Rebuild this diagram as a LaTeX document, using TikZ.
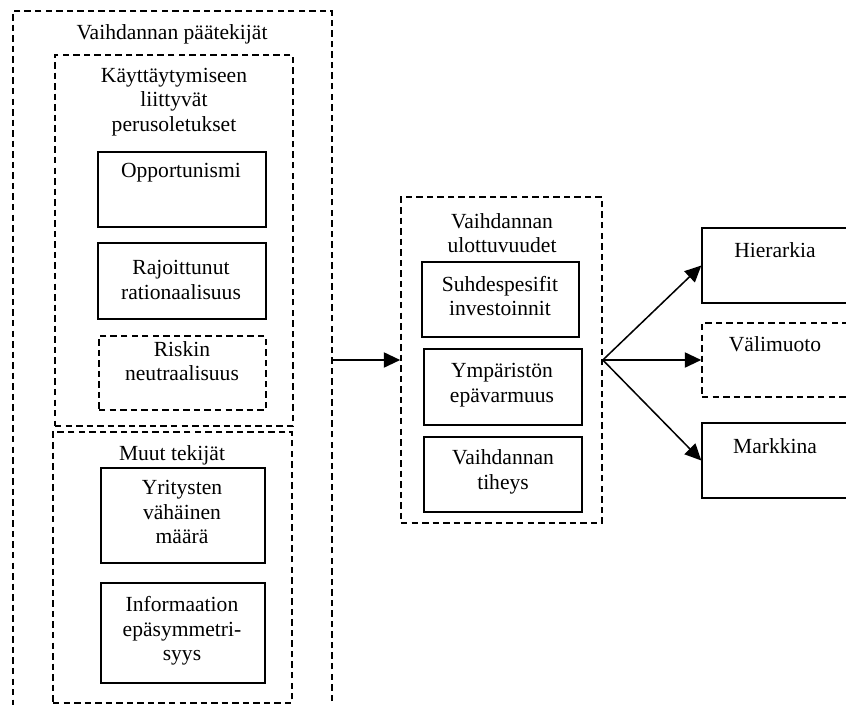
\documentclass[tikz,border=0pt]{standalone}
\usepackage{fontspec}
\setmainfont{Liberation Serif}
\usetikzlibrary{arrows.meta,fit}

\tikzset{
  box/.style={draw, line width=1.2pt, inner sep=0pt},
  dbox/.style={draw, line width=1.4pt, dash pattern=on 5.5pt off 3.5pt, inner sep=0pt},
  txt/.style={align=center, inner sep=0pt, font=\fontsize{18.4}{20.9}\selectfont},
  arr/.style={line width=1.3pt, -{Triangle[length=14pt,width=13pt]}}
}

\begin{document}
\begin{tikzpicture}[x=0.03cm, y=-0.03cm]
\useasboundingbox (0,0) rectangle (846,705);

% frames

\node (paatekijat) [dbox, fit={(13,11) (332,730)}] {};
\node (kaytt) [dbox, fit={(55,55) (293,426)}] {};
\node (muut) [dbox, fit={(53,432) (292,703)}] {};
\node (ulott) [dbox, fit={(401,197) (602,523)}] {};

% boxes

\node (opport) [box, fit={(98,152) (266,227)}] {};
\node (rajoit) [box, fit={(98,243) (266,319)}] {};
\node (riski) [dbox, fit={(99,336) (266,410)}] {};

\node (yrit) [box, fit={(101,468) (265,563)}] {};
\node (inform) [box, fit={(101,583) (265,683)}] {};

\node (suhde) [box, fit={(422,262) (579,337)}] {};
\node (ympar) [box, fit={(424,349) (582,425)}] {};
\node (tiheys) [box, fit={(424,437) (582,512)}] {};

\node (hier) [box, fit={(702,228) (849,303)}] {};
\node (vali) [dbox, fit={(702,323) (849,397)}] {};
\node (markk) [box, fit={(702,423) (849,498)}] {};

% texts

\node (t-paat) [txt] at (172,34) {Vaihdannan päätekijät};
\node (t-kaytt) [txt] at (174,102) {Käyttäytymiseen\\liittyvät\\perusoletukset};
\node (t-opport) [txt] at (181,173) {Opportunismi};
\node (t-rajoit) [txt] at (181,280) {Rajoittunut\\rationaalisuus};
\node (t-riski) [txt] at (182,361) {Riskin\\neutraalisuus};

\node (t-muut) [txt] at (172,455) {Muut tekijät};
\node (t-yrit) [txt] at (182,512) {Yritysten\\vähäinen\\määrä};
\node (t-inform) [txt] at (182,631) {Informaation\\epäsymmetri-\\syys};

\node (t-ulott) [txt] at (502,233) {Vaihdannan\\ulottuvuudet};
\node (t-suhde) [txt] at (500,296) {Suhdespesifit\\investoinnit};
\node (t-ympar) [txt] at (502,385) {Ympäristön\\epävarmuus};
\node (t-tiheys) [txt] at (503,472) {Vaihdannan\\tiheys};

\node (t-hier) [txt] at (775,250) {Hierarkia};
\node (t-vali) [txt] at (775,344) {Välimuoto};
\node (t-markk) [txt] at (775,446) {Markkina};

% arrows

\draw[arr] (paatekijat.east |- ulott.west) -- (ulott.west);
\draw[arr] (ulott.east) -- (hier.west);
\draw[arr] (ulott.east) -- (vali.west);
\draw[arr] (ulott.east) -- (markk.west);
\end{tikzpicture}
\end{document}
